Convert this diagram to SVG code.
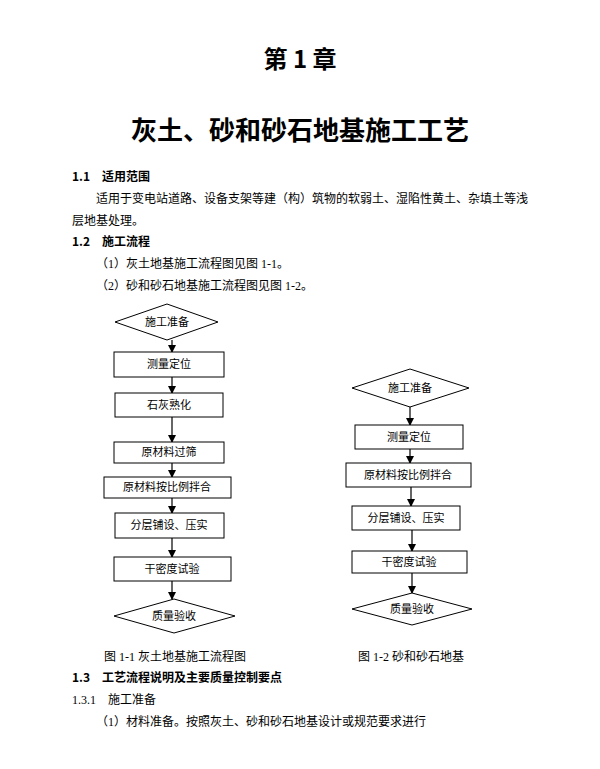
<svg xmlns="http://www.w3.org/2000/svg" width="600" height="769" viewBox="0 0 600 769">
<style>
text{font-family:"Liberation Serif","Noto Sans CJK SC",serif;fill:#000}
.h{font-family:"Noto Sans CJK SC",sans-serif;font-weight:bold}
.b{font-size:12px}
.n{fill:#fff;stroke:#000;stroke-width:1}
.t{font-size:11px;text-anchor:middle}
.c line{stroke:#000;stroke-width:1.2;marker-end:url(#a)}
</style>
<defs><marker id="a" markerWidth="8" markerHeight="8" refX="7" refY="4" orient="auto" markerUnits="userSpaceOnUse"><path d="M0,0L8,4L0,8z" fill="#000"/></marker></defs>
<rect width="600" height="769" fill="#fff"/>
<text class="h" x="300" y="68" font-size="24" text-anchor="middle">第 1 章</text>
<text class="h" x="300" y="140" font-size="26" text-anchor="middle">灰土、砂和砂石地基施工工艺</text>
<text class="h b" x="72" y="181">1.1　适用范围</text>
<text class="b" x="96" y="203">适用于变电站道路、设备支架等建（构）筑物的软弱土、湿陷性黄土、杂填土等浅</text>
<text class="b" x="72" y="225">层地基处理。</text>
<text class="h b" x="72" y="246">1.2　施工流程</text>
<text class="b" x="96" y="268">（1）灰土地基施工流程图见图 1-1。</text>
<text class="b" x="96" y="290">（2）砂和砂石地基施工流程图见图 1-2。</text>
<g class="c">
<line x1="172" y1="340" x2="172" y2="352"/>
<line x1="172" y1="377" x2="172" y2="393"/>
<line x1="172" y1="417" x2="172" y2="442"/>
<line x1="172" y1="463" x2="172" y2="477"/>
<line x1="172" y1="498" x2="172" y2="513"/>
<line x1="172" y1="538" x2="172" y2="557"/>
<line x1="172" y1="581" x2="172" y2="599"/>
<line x1="410" y1="407" x2="410" y2="425"/>
<line x1="410" y1="449" x2="410" y2="463"/>
<line x1="411" y1="487" x2="411" y2="506"/>
<line x1="412" y1="530" x2="412" y2="551"/>
<line x1="412" y1="573" x2="412" y2="593"/>
</g>
<g id="l1"><polygon class="n" points="115,322 167,304 218,322 167,340"/><text class="t" x="167" y="326">施工准备</text></g>
<g id="l2"><rect class="n" x="114" y="352" width="110" height="25"/><text class="t" x="169" y="368">测量定位</text></g>
<g id="l3"><rect class="n" x="115" y="393" width="108" height="24" stroke-width="1.5"/><text class="t" x="169" y="409">石灰熟化</text></g>
<g id="l4"><rect class="n" x="114" y="442" width="110" height="21"/><text class="t" x="169" y="456">原材料过筛</text></g>
<g id="l5"><rect class="n" x="104" y="477" width="127" height="21"/><text class="t" x="167" y="491">原材料按比例拌合</text></g>
<g id="l6"><rect class="n" x="115" y="513" width="109" height="25"/><text class="t" x="169" y="529">分层铺设、压实</text></g>
<g id="l7"><rect class="n" x="114" y="557" width="117" height="24"/><text class="t" x="172" y="573">干密度试验</text></g>
<g id="l8"><polygon class="n" points="114,616 174,599 235,616 174,633"/><text class="t" x="174" y="620">质量验收</text></g>
<g id="r1"><polygon class="n" points="352,388 410,369 469,388 410,407"/><text class="t" x="410" y="392">施工准备</text></g>
<g id="r2"><rect class="n" x="355" y="425" width="108" height="24"/><text class="t" x="409" y="441">测量定位</text></g>
<g id="r3"><rect class="n" x="346" y="463" width="125" height="24"/><text class="t" x="408" y="479">原材料按比例拌合</text></g>
<g id="r4"><rect class="n" x="352" y="506" width="108" height="24"/><text class="t" x="406" y="522">分层铺设、压实</text></g>
<g id="r5"><rect class="n" x="352" y="551" width="115" height="22"/><text class="t" x="409" y="566">干密度试验</text></g>
<g id="r6"><polygon class="n" points="352,609 412,593 472,609 412,625"/><text class="t" x="412" y="613">质量验收</text></g>
<text class="b" x="104" y="661">图 1-1 灰土地基施工流程图</text>
<text class="b" x="358" y="661">图 1-2 砂和砂石地基</text>
<text class="h b" x="72" y="682">1.3　工艺流程说明及主要质量控制要点</text>
<text class="b" x="72" y="704">1.3.1　施工准备</text>
<text class="b" x="96" y="726">（1）材料准备。按照灰土、砂和砂石地基设计或规范要求进行</text>
</svg>
